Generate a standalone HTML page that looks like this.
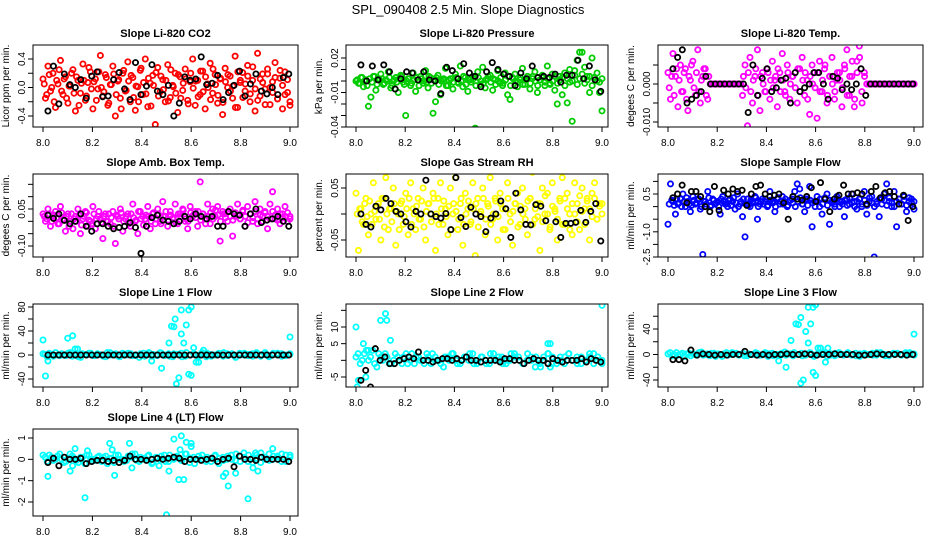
<!DOCTYPE html>
<html><head><meta charset="utf-8"><style>
html,body{margin:0;padding:0;background:#fff;}
svg{display:block;font-family:"Liberation Sans",sans-serif;}
</style></head><body>
<svg id="chart" width="936" height="540" viewBox="0 0 936 540" xmlns="http://www.w3.org/2000/svg">
<rect width="936" height="540" fill="#fff"/>
<text x="468" y="14" text-anchor="middle" font-size="13">SPL_090408  2.5 Min. Slope Diagnostics</text>
</svg>
<script>
// ---------- data ----------
const xTicks=[8.0,8.2,8.4,8.6,8.8,9.0];
const xTickLabels=["8.0","8.2","8.4","8.6","8.8","9.0"];

const co2Ticks=[0.4,0.2,0,-0.2,-0.4];
const co2Labels=["0.4","","0.0","","-0.4"];
const co2Color=[0.12,-0.15,0.3,-0.05,0.2,-0.28,0.05,0.38,-0.1,0.15,-0.22,0.02,0.25,-0.33,0.1,-0.08,0.33,-0.18,0.07,0.22,-0.3,0.12,-0.02,0.45,-0.12,0.18,-0.25,0.04,0.3,-0.4,0.09,-0.15,0.2,-0.05,0.36,-0.2,0.14,-0.32,0.01,0.24,-0.1,0.4,-0.27,0.06,0.17,-0.52,0.28,-0.06,0.11,-0.2,0.32,-0.14,0.03,0.2,-0.35,0.15,-0.04,0.26,-0.18,0.08,0.4,-0.25,0.1,-0.1,0.23,-0.3,0.05,0.34,-0.08,0.18,-0.22,0.12,-0.38,0.27,0.0,0.16,-0.15,0.44,-0.28,0.07,0.21,-0.05,0.31,-0.2,0.1,-0.33,0.48,-0.12,0.19,-0.02,0.26,-0.24,0.08,0.35,-0.16,0.13,-0.3,0.22,-0.07,-0.25];
const co2Color2=[0.05,-0.1,0.18,0.0,-0.2,0.1,0.25,-0.05,0.12,-0.15,0.02,0.2,-0.08,0.15,-0.25,0.06,0.1,-0.12,0.28,-0.02,0.08,-0.18,0.22,0.0,-0.06,0.14,-0.22,0.04,0.19,-0.1,0.11,-0.3,0.24,-0.04,0.09,0.17,-0.14,0.02,-0.2,0.27,0.07,-0.09,0.13,-0.26,0.03,0.21,-0.12,0.16,-0.03,0.1,-0.19,0.25,0.01,-0.08,0.18,-0.15,0.06,0.12,-0.23,0.2,-0.01,0.09,-0.13,0.23,-0.06,0.15,0.0,-0.17,0.26,0.04,-0.11,0.13,-0.21,0.08,0.18,-0.05,0.02,-0.28,0.22,0.1,-0.14,0.05,0.16,-0.09,0.29,-0.02,-0.18,0.12,0.07,-0.24,0.19,0.0,-0.07,0.14,-0.16,0.24,0.03,-0.1,0.11,-0.2];
const co2Black=[-0.33,0.3,-0.23,0.19,0.04,0.0,0.11,-0.15,0.16,0.22,-0.13,-0.12,0.11,0.21,-0.02,-0.17,0.35,-0.1,0.02,0.32,-0.05,-0.1,0.03,-0.4,-0.22,0.15,0.1,0.12,0.43,0.04,0.06,0.17,-0.17,-0.07,0.03,0.23,-0.12,0.05,0.19,-0.05,-0.09,0.0,-0.1,0.14,0.19];

const presTicks=[0.02,0.01,0,-0.01,-0.02,-0.03,-0.04];
const presLabels=["0.02","","","-0.01","","","-0.04"];
const presColor=[0,-0.002,0.003,-0.005,0.001,-0.022,-0.014,0.004,-0.008,0.002,0.006,-0.003,0.001,0.008,-0.006,0,0.003,-0.01,0.005,-0.001,-0.03,0.002,-0.004,0.007,-0.009,0.001,0.004,-0.002,0.009,-0.006,0.003,-0.028,-0.018,0.005,-0.012,0.001,0.011,-0.004,0.002,-0.007,0.006,-0.001,0.013,-0.005,0.003,-0.009,0.001,0.004,-0.041,0.008,-0.003,0.012,-0.006,0.002,0.005,-0.008,0.001,0.009,-0.002,-0.004,0.007,-0.012,-0.016,0.003,0.006,-0.005,0.001,0.011,-0.003,0.004,-0.007,0.002,0.008,-0.01,0.001,0.005,-0.004,0.013,-0.002,0.006,-0.008,-0.02,0.004,-0.012,0.007,-0.019,0.01,-0.035,0.009,0.018,0.025,0.025,0.012,0.004,-0.01,0.02,0.003,0.007,-0.01,-0.026];
const presColor2=[0.001,-0.002,0.003,0,-0.004,0.002,-0.001,0.004,-0.003,0.001,0.002,-0.002,0,0.003,-0.004,0.001,-0.001,0.002,0.004,-0.003,0,0.002,-0.002,0.001,0.003,-0.004,0.002,0,-0.001,0.004,-0.002,0.001,0.003,-0.003,0,0.002,-0.004,0.001,0.002,-0.001,0.003,-0.002,0,0.004,-0.003,0.001,-0.001,0.002,-0.004,0.003,0,-0.002,0.001,0.004,-0.001,0.002,-0.003,0,0.003,-0.002,0.001,0.004,-0.004,0.002,0,-0.001,0.003,-0.003,0.001,0.002,-0.002,0.004,0,-0.004,0.001,0.003,-0.001,0.002,-0.003,0,0.004,-0.002,0.001,0.003,-0.004,0.002,-0.001,0,0.005,-0.003,0.002,0.006,-0.002,0.001,0.004,-0.004,0.003,0,-0.001,0.002];
const presBlack=[0.014,0,0.013,0.001,0.014,0.008,-0.007,0.002,0.008,0.007,0.001,0.008,0.001,0,-0.011,0.012,0.009,0.002,0.015,0.007,0.004,-0.005,0.008,0.016,0.01,0.006,0.004,-0.004,0.007,0.002,0.013,0.003,0.004,0.003,0.006,-0.001,0.005,0.005,0.018,0.002,0.013,0.001,-0.009];

const tempTicks=[0.005,0,-0.005,-0.01];
const tempLabels=["","0.000","","-0.010"];
const tempColor=[0.003,-0.004,0.008,0.002,-0.006,0.005,-0.002,0.004,-0.007,0.001,0.006,-0.003,0.009,-0.005,0.002,0.004,-0.004,0,0,0,0,0,0,0,0,0,0,0,0,0,-0.003,0.005,-0.011,0.007,-0.005,0.002,0.009,-0.007,0.003,-0.002,0.004,-0.004,0.006,0.001,-0.006,0.003,0.008,-0.002,0.005,-0.004,0.002,0.012,-0.005,0.004,0.007,-0.003,0.001,-0.008,0.005,0.003,-0.009,0.006,-0.002,0.004,-0.005,0.002,0.007,-0.004,0.001,0.003,-0.006,0.005,0.009,-0.003,0.002,-0.006,0.006,0.01,-0.002,0.003,0,0,0,0,0,0,0,0,0,0,0,0,0,0,0,0,0,0,0,0];
const tempColor2=[-0.001,0.002,-0.003,0.004,0.001,-0.002,0.003,-0.004,0.002,0.005,-0.001,0.003,-0.002,0.001,0.004,-0.003,0.002,0,0,0,0,0,0,0,0,0,0,0,0,0,0.002,-0.001,0.003,-0.002,0.001,0.004,-0.003,0.002,0,-0.002,0.003,0.001,-0.001,0.002,0.004,-0.002,0.001,-0.003,0.003,0,0.002,-0.001,0.004,-0.002,0.001,0.003,-0.004,0.002,0,-0.001,0.003,-0.002,0.001,0.005,-0.003,0.002,0,-0.002,0.003,0.001,-0.001,0.004,-0.003,0.002,0.006,-0.004,0.003,0.007,-0.005,0.002,0,0,0,0,0,0,0,0,0,0,0,0,0,0,0,0,0,0,0,0];
const tempBlack=[0.004,0.007,0.009,-0.005,-0.004,-0.003,-0.002,0.002,0,0,0,0,0,0,0,0,-0.0075,0.005,-0.003,0.0015,0.004,-0.002,-0.001,0.001,0.0015,-0.005,0.003,-0.002,-0.001,0,0.003,0.003,0,-0.004,0.002,0.0015,-0.0015,0,-0.0015,0,0.004,-0.003,0,0,0,0,0,0,0,0,0,0];

const ambTicks=[0.15,0.1,0.05,0,-0.05,-0.1];
const ambLabels=["","","0.05","","","-0.10"];
const ambColor=[0.03,0.0,0.05,-0.02,0.02,0.04,-0.01,0.06,0.01,-0.04,0.03,0.0,-0.03,0.02,0.05,-0.05,0.01,0.04,-0.02,0.0,0.06,-0.03,0.02,0.01,-0.07,0.03,0.0,-0.01,0.04,-0.09,0.02,0.05,-0.04,0.01,0.03,-0.02,0.07,0.0,-0.05,0.04,0.02,0.01,0.06,-0.03,0.03,-0.01,0.05,0.0,0.08,0.02,-0.02,0.04,0.01,0.07,-0.01,0.03,0.05,0.0,-0.03,0.06,0.02,0.04,-0.02,0.16,0.03,0.01,0.07,-0.01,0.05,0.02,0.06,-0.08,0.04,0.03,0.0,0.05,-0.06,0.02,0.07,0.01,0.04,-0.02,0.06,0.03,0.0,0.08,-0.01,0.05,0.02,0.04,-0.03,0.07,0.12,0.01,0.05,-0.01,0.03,0.06,0.0,0.02];
const ambColor2=[0.02,0.01,0.03,0.0,0.025,0.015,-0.01,0.035,0.005,0.02,-0.02,0.03,0.01,0.0,0.025,-0.015,0.02,0.035,0.005,-0.01,0.03,0.01,0.04,-0.005,0.02,0.0,0.03,0.015,-0.02,0.025,0.01,0.035,0.0,0.02,-0.01,0.03,0.015,0.005,0.04,0.01,-0.015,0.025,0.02,0.0,0.035,0.01,0.03,-0.01,0.02,0.04,0.005,0.025,0.015,-0.005,0.03,0.02,0.045,0.01,0.0,0.035,0.025,0.015,0.04,0.005,0.03,-0.01,0.02,0.035,0.01,0.045,0.025,0.0,0.03,0.015,0.04,0.02,0.005,0.035,0.025,0.01,0.045,0.02,-0.005,0.03,0.015,0.04,0.01,0.025,0.0,0.035,0.02,0.01,0.04,0.025,0.005,0.03,0.015,0.02,0.035,0.01];
const ambBlack=[0.025,0.012,0.03,0.004,-0.01,0.0,0.03,-0.02,-0.04,-0.01,-0.01,-0.02,-0.03,-0.025,-0.02,-0.005,-0.025,-0.13,-0.02,0.015,0.025,0.005,0.0,-0.01,0.0,0.02,0.01,0.03,0.02,0.01,0.02,-0.02,-0.02,0.04,0.03,0.025,-0.02,0.03,0.05,-0.005,0.005,0.01,0.02,0.0,-0.02];

const rhTicks=[0.05,0,-0.05];
const rhLabels=["0.05","","-0.05"];
const rhColor=[0.04,-0.07,0.01,-0.02,0.03,-0.04,0.0,0.06,-0.01,0.02,-0.05,0.03,0.07,-0.03,0.01,0.05,-0.06,0.0,0.02,-0.02,0.04,-0.04,0.06,0.01,-0.03,0.03,-0.01,0.05,-0.05,0.02,0.0,0.04,-0.07,0.03,0.06,-0.02,0.01,-0.04,0.05,0.0,0.07,-0.03,0.02,-0.06,0.04,0.01,-0.02,0.06,-0.08,0.03,0.0,0.05,-0.04,0.02,0.07,-0.01,0.03,-0.05,0.04,0.01,-0.03,0.06,0.0,-0.06,0.02,0.04,-0.02,0.05,0.01,-0.04,0.03,0.08,-0.01,0.02,-0.07,0.05,0.0,0.04,-0.03,0.06,0.01,-0.05,0.03,0.07,-0.02,0.04,0.0,-0.04,0.06,0.02,-0.03,0.05,0.01,0.03,-0.05,0.04,0.06,-0.01,0.02,0.0];
const rhColor2=[0.0,0.01,-0.015,0.02,-0.005,0.025,-0.02,0.005,0.015,-0.01,0.03,-0.025,0.0,0.01,-0.015,0.02,0.005,-0.03,0.025,-0.005,0.01,0.03,-0.02,0.0,0.015,-0.01,0.025,-0.025,0.005,0.02,-0.015,0.03,0.0,-0.02,0.01,0.025,-0.005,0.015,-0.03,0.02,0.005,-0.01,0.03,-0.02,0.0,0.025,-0.015,0.01,0.02,-0.025,0.005,0.03,-0.01,0.015,-0.02,0.0,0.025,-0.005,0.02,-0.03,0.01,0.03,-0.015,0.005,0.02,-0.025,0.015,0.0,-0.01,0.025,0.03,-0.02,0.01,-0.005,0.02,-0.015,0.035,0.0,-0.025,0.015,0.005,-0.01,0.025,-0.02,0.03,0.01,-0.03,0.02,0.0,-0.015,0.035,0.005,-0.02,0.025,0.01,-0.005,0.03,-0.01,0.015,0.02];
const rhBlack=[0.0,-0.02,-0.025,0.015,0.008,0.03,0.02,0.005,0.0,-0.015,-0.025,0.005,0.0,0.065,0.0,-0.005,-0.008,0.001,-0.03,0.07,-0.007,-0.024,0.013,0.0,-0.005,-0.034,-0.008,0.0,0.025,0.01,-0.045,0.04,0.008,-0.02,-0.021,0.018,0.015,-0.013,-0.094,-0.015,-0.045,-0.018,-0.018,-0.016,0.007,-0.016,0.005,0.02,-0.052];

const flowTicks=[1.0,0.5,0,-0.5,-1.0,-1.5,-2.0];
const flowLabels=["","0.5","","","-1.0","","-2.5"];
const flowColor=[-0.7,0.9,0.2,-0.3,0.1,0.3,0.5,0.0,0.2,-0.2,0.4,0.1,0.3,-0.1,-1.9,0.2,0.6,0.0,0.3,0.1,0.2,-0.3,0.4,0.1,0.0,0.3,0.2,-0.1,0.5,0.1,-0.4,-1.2,0.3,0.0,0.2,0.4,-0.5,0.1,0.3,0.2,0.0,0.6,0.2,-0.2,0.3,0.1,0.4,0.2,0.0,-2.35,0.3,0.6,0.9,0.7,0.1,-0.2,0.3,0.8,-0.8,0.2,0.4,0.0,-0.3,0.3,0.5,-0.7,0.2,0.1,0.4,0.0,0.2,-0.4,0.3,0.1,0.5,0.2,-0.1,0.3,0.0,0.6,-0.3,0.2,0.4,-2.0,0.1,-0.4,0.3,0.5,0.9,0.2,0.0,0.6,-0.8,0.3,0.1,0.4,-0.2,0.2,0.3,-0.1];
const flowColor2=[0.1,0.25,0.05,0.3,0.15,0.0,0.2,0.35,0.1,0.05,0.25,0.15,0.3,0.0,0.2,0.1,0.35,0.05,0.25,0.15,0.0,0.3,0.2,0.1,0.25,0.05,0.35,0.15,0.0,0.2,0.3,0.1,0.05,0.25,0.15,0.35,0.0,0.2,0.1,0.3,0.05,0.25,0.15,0.0,0.35,0.2,0.1,0.3,0.05,0.25,0.15,0.0,0.2,0.35,0.1,0.3,0.05,0.25,0.15,0.0,0.2,0.3,0.1,0.35,0.05,0.25,0.15,0.0,0.3,0.2,0.1,0.25,0.05,0.35,0.15,0.0,0.2,0.3,0.1,0.25,0.05,0.35,0.15,0.0,0.2,0.3,0.1,0.25,0.05,0.35,0.15,0.0,0.2,0.3,0.1,0.25,0.05,0.35,0.15,0.2];
const flowBlack=[0.35,0.5,0.85,0.15,0.6,0.6,0.4,0.0,-0.2,0.8,-0.15,0.65,0.5,0.7,0.6,0.65,0.05,0.5,0.8,0.85,0.5,0.4,0.45,0.5,0.15,-0.5,0.4,0.3,0.25,0.4,0.75,0.2,0.95,0.3,-0.2,0.3,0.45,0.85,0.5,0.5,0.55,0.5,0.1,0.6,0.8,0.35,0.55,0.6,0.4,0.1,0.45,-0.55,0.0];

const line1Ticks=[80,60,40,20,0,-20,-40];
const line1Labels=["80","","40","","0","","-40"];
const line1Base=[2,-3,1,4,-1,0,3,-2,2,-4,1,3,-1,2,0,-3,4,1,-2,3,0,2,-1,-4,3,1,-2,0,4,-1,2,-3,1,3,-2,0,2,-1,4,-3,1,0,3,-2,2,1,-4,3,0,-1,2,4,-2,1,-3,3,0,2,-1,1];
const line1Base2=[1,3,-2,0,2,-1,4,1,-3,2,0,3,-1,1,-2,4,0,2,-3,1,3,-1,0,2,-2,4,1,-1,3,0,-2,2,1,-3,4,0,1,-1,2,3,-2,0,1,4,-1,2,-3,0,3,1,-2,2,0,4,-1,1,3,-2,0,2];
const line1OutX=[8.0,8.01,8.02,8.1,8.12,8.13,8.14,8.44,8.48,8.51,8.52,8.53,8.54,8.535,8.55,8.56,8.56,8.57,8.58,8.59,8.59,8.6,8.6,8.61,8.62,8.63,8.65,9.0];
const line1OutY=[25,-35,-10,28,32,10,10,-10,-22,20,48,47,-48,60,-38,35,75,20,50,-32,75,-34,80,12,-12,-12,8,30];
const line1Black=[0,0,0,0,0,0,0,0,0,0,0,0,0,0,0,0,0,0,0,0,0,0,0,0,0,0,0,0,0,0,0,0,0,0,0,0,0,0,0,0,0,0,0,0,0];

const line2Ticks=[15,10,5,0,-5];
const line2Labels=["","10","5","","-5"];
const line2Base=[1,-1,2,0,3,-2,1,2,-1,0,1,-1,2,0,-1,1,0,2,-1,1,0,-2,1,2,0,-1,1,0,2,-1,1,0,-1,2,0,1,-1,0,2,1,-1,0,1,-2,0,1,2,-1,0,1,-1,2,0,1,-1,0,1,2,0,-1];
const line2Base2=[2,0,3,1,-1,2,0,1,-1,2,0,1,-1,2,1,0,-1,1,2,0,-1,1,0,2,-1,0,1,2,-1,0,1,-1,2,0,1,-1,0,2,1,0,-1,2,0,1,-1,0,2,1,-1,0,1,2,0,-1,1,0,2,-1,1,0];
const line2OutX=[8.0,8.005,8.01,8.03,8.04,8.05,8.1,8.12,8.125,8.14,8.75,8.78,8.79,8.79,9.0];
const line2OutY=[10,-8,-6,5,-5,3,12,14,12,6,-2,5,5,-2,16.5];
const line2Black=[-6,-3,-8,3.5,0,1,-1,-1,0,0.5,1,0.5,2.5,0,0,-0.5,0,0.5,0.5,0,0.5,0,1,0,0,-0.5,0,0,0,-0.5,0.5,0.5,0,0,-1,0,0.5,0,0,-1,0.5,0,-0.5,0,0,0,0.5,-0.5,0.5,0,-0.5];

const line3Ticks=[60,40,20,0,-20,-40];
const line3Labels=["","40","","0","","-40"];
const line3Base=[1,-2,3,0,-3,2,1,-1,4,0,-2,2,1,-3,3,0,1,-1,2,-2,0,3,-1,1,-3,2,0,-1,4,1,-2,0,2,-1,3,-3,1,0,2,-1,-2,3,0,1,-1,2,-3,1,0,2,-1,3,0,-2,1,2,-1,0,3,-1];
const line3Base2=[3,0,-1,2,1,-2,0,3,-1,1,2,-3,0,1,-1,3,2,0,-2,1,0,2,-1,3,1,-2,0,2,-1,1,3,0,-2,1,2,-1,0,3,-3,1,2,0,-1,3,0,-2,1,2,0,-1,3,1,-2,0,2,1,-1,3,0,1];
const line3OutX=[8.45,8.48,8.5,8.52,8.53,8.54,8.54,8.55,8.56,8.57,8.57,8.58,8.59,8.59,8.6,8.6,8.61,8.62,8.64,8.65,9.0];
const line3OutY=[-10,-20,22,48,47,-45,58,-40,36,74,18,48,-28,74,-33,78,10,10,-12,10,32];
const line3Black=[-8,-8,-10,7,-1,1,0,-1,0,-1,0,0,5,0,-1,0,-1,0,0,1,0,0,1,0,-1,0,0,1,0,0,0,-1,-1,0,1,0,0,0,0,-1,0];

const line4Ticks=[1,0,-1,-2];
const line4Labels=["1","0","-1","-2"];
const line4Base=[0.2,-0.1,0.1,0,0.25,-0.15,0.05,0.15,-0.05,0.1,-0.2,0.2,0,0.1,-0.1,0.15,0.05,-0.15,0.2,0,-0.05,0.1,0.25,-0.1,0.05,0.15,-0.2,0.1,0,0.2,-0.1,0.05,0.15,-0.05,0.25,-0.15,0.1,0,0.2,-0.1,0.05,0.15,-0.2,0.1,0,0.2,-0.05,0.15,0.3,-0.1,0.05,0.2,-0.15,0.1,0.25,0,0.15,-0.1,0.2,0.1];
const line4Base2=[0.1,0.2,-0.05,0.15,0,-0.1,0.25,0.05,-0.15,0.1,0.2,0,-0.05,0.15,0.1,-0.2,0.05,0.2,0,-0.1,0.15,0.25,-0.05,0.1,0,0.2,-0.15,0.05,0.15,-0.1,0.2,0,0.1,-0.05,0.25,0.05,-0.2,0.15,0,0.1,-0.1,0.2,0.05,-0.05,0.15,0,0.25,-0.1,0.1,0.2,-0.15,0.05,0.3,0,-0.05,0.15,0.1,0.25,-0.1,0.2];
const line4OutX=[8.02,8.11,8.12,8.13,8.17,8.18,8.27,8.28,8.29,8.35,8.36,8.47,8.5,8.51,8.53,8.55,8.56,8.555,8.57,8.58,8.6,8.6,8.73,8.74,8.75,8.78,8.83,8.85,8.87,8.86,8.93];
const line4OutY=[-0.8,-0.55,-0.3,0.5,-1.8,0.4,0.75,0.45,-0.75,0.75,-0.4,-0.3,-2.6,-0.55,0.95,-0.95,1.1,0.45,-0.95,0.8,0.6,0.75,-0.8,-0.65,-1.25,-0.65,-1.85,-0.4,-0.55,0.3,0.5];
const line4Black=[-0.15,0.05,-0.3,0.1,0,0,0.05,-0.2,-0.1,-0.05,-0.05,-0.1,-0.05,-0.15,-0.05,0.15,0,0,-0.05,0,0.05,0,0.05,0.1,0.05,-0.1,0,0,-0.05,0,0.05,-0.1,0,0.05,-0.35,0.15,0,0,-0.05,0.1,0,0,0,0,-0.1];

// ---------- layout ----------
const cols=[{l:33,r:298,x8:43,x9:290},{l:346,r:608,x8:356,x9:602},{l:658,r:923,x8:668,x9:914}];
const rows=[{t:45,b:127},{t:174,b:257},{t:304,b:387},{t:429,b:516}];
const panels=[
 {name:"co2",title:"Slope Li-820 CO2",ylab:"Licor ppm per min.",c:0,r:0,color:"#ff0000",v1:0.4,p1:59,v2:-0.4,p2:116,ticks:co2Ticks,labels:co2Labels,cy:co2Color,cy2:co2Color2,by:co2Black},
 {name:"pressure",title:"Slope Li-820 Pressure",ylab:"kPa per min.",c:1,r:0,color:"#00cc00",v1:0.02,p1:58,v2:-0.04,p2:127,ticks:presTicks,labels:presLabels,cy:presColor,cy2:presColor2,by:presBlack},
 {name:"temp",title:"Slope Li-820 Temp.",ylab:"degees C per min.",c:2,r:0,color:"#ff00ff",v1:0,p1:84,v2:-0.01,p2:122,ticks:tempTicks,labels:tempLabels,cy:tempColor,cy2:tempColor2,by:tempBlack},
 {name:"amb-box-temp",title:"Slope Amb. Box Temp.",ylab:"degees C per min.",c:0,r:1,color:"#ff00ff",v1:0.05,p1:209,v2:-0.1,p2:246,ticks:ambTicks,labels:ambLabels,cy:ambColor,cy2:ambColor2,by:ambBlack},
 {name:"gas-stream-rh",title:"Slope Gas Stream RH",ylab:"percent per min.",c:1,r:1,color:"#ffff00",v1:0.05,p1:188,v2:-0.05,p2:240,ticks:rhTicks,labels:rhLabels,cy:rhColor,cy2:rhColor2,by:rhBlack},
 {name:"sample-flow",title:"Slope Sample Flow",ylab:"ml/min per min.",c:2,r:1,color:"#0000ff",v1:0.5,p1:194,v2:-2.0,p2:257,ticks:flowTicks,labels:flowLabels,cy:flowColor,cy2:flowColor2,by:flowBlack},
 {name:"line1-flow",title:"Slope Line 1 Flow",ylab:"ml/min per min.",c:0,r:2,color:"#00ffff",v1:0,p1:355,v2:-40,p2:379,ticks:line1Ticks,labels:line1Labels,cy:line1Base,cy2:line1Base2,ox:line1OutX,oy:line1OutY,by:line1Black},
 {name:"line2-flow",title:"Slope Line 2 Flow",ylab:"ml/min per min.",c:1,r:2,color:"#00ffff",v1:10,p1:327,v2:-5,p2:377,ticks:line2Ticks,labels:line2Labels,cy:line2Base,cy2:line2Base2,ox:line2OutX,oy:line2OutY,by:line2Black},
 {name:"line3-flow",title:"Slope Line 3 Flow",ylab:"ml/min per min.",c:2,r:2,color:"#00ffff",v1:40,p1:329,v2:-40,p2:380,ticks:line3Ticks,labels:line3Labels,cy:line3Base,cy2:line3Base2,ox:line3OutX,oy:line3OutY,by:line3Black},
 {name:"line4-flow",title:"Slope Line 4 (LT) Flow",ylab:"ml/min per min.",c:0,r:3,color:"#00ffff",v1:1,p1:438,v2:-2,p2:502,ticks:line4Ticks,labels:line4Labels,cy:line4Base,cy2:line4Base2,ox:line4OutX,oy:line4OutY,by:line4Black}
];

const svg=document.getElementById('chart');
const NS="http://www.w3.org/2000/svg";
function mk(tag,attrs,parent){const e=document.createElementNS(NS,tag);for(const k in attrs)e.setAttribute(k,attrs[k]);parent.appendChild(e);return e;}

panels.forEach(p=>{
  const C=cols[p.c],R=rows[p.r];
  const g=mk('g',{},svg);
  
  
  const xs=v=>C.x8+(v-8)*(C.x9-C.x8);
  const ys=v=>p.p1+(v-p.v1)*(p.p2-p.p1)/(p.v2-p.v1);
  const clip='clip-'+p.name;
  const cp=mk('clipPath',{id:clip},g);
  mk('rect',{x:C.l,y:R.t,width:C.r-C.l,height:R.b-R.t},cp);
  const t=mk('text',{x:(C.l+C.r)/2,y:R.t-8,'text-anchor':'middle','font-size':'11','font-weight':'bold'},g);
  t.textContent=p.title;
  
  
  const yl=mk('text',{x:0,y:0,'text-anchor':'middle','font-size':'10',transform:`translate(${C.l-24},${(R.t+R.b)/2}) rotate(-90)`},g);
  yl.textContent=p.ylab;
  
  
  xTicks.forEach((v,i)=>{
    const x=xs(v);
    const tk=mk('line',{x1:x,x2:x,y1:R.b,y2:R.b+5,stroke:'#000','stroke-width':1},g);
    
    
    const lb=mk('text',{x:x,y:R.b+19,'text-anchor':'middle','font-size':'10'},g);
    lb.textContent=xTickLabels[i];
    
    
  });
  p.ticks.forEach((v,i)=>{
    const y=ys(v);
    const tk=mk('line',{x1:C.l-5,x2:C.l,y1:y,y2:y,stroke:'#000','stroke-width':1},g);
    
    
    if(p.labels[i]){
      const lb=mk('text',{x:0,y:0,'text-anchor':'middle','font-size':'10',transform:`translate(${C.l-8},${y}) rotate(-90)`},g);
      lb.textContent=p.labels[i];
      
      
    }
  });
  const pg=mk('g',{'clip-path':`url(#${clip})`,fill:'none','stroke-width':1.8},g);
  
  
  [p.cy,p.cy2].forEach((arr,k)=>{
    const n=arr.length;
    const off=k*0.5/(n-1);
    arr.forEach((v,i)=>{
      const c=mk('circle',{cx:xs(8+off+i*(1-off)/(n-1)),cy:ys(v),r:2.6,stroke:p.color},pg);
      
      
    });
  });
  if(p.ox){p.ox.forEach((xv,i)=>{
    const c=mk('circle',{cx:xs(xv),cy:ys(p.oy[i]),r:2.6,stroke:p.color},pg);
    
    
  });}
  const m=p.by.length;
  p.by.forEach((v,i)=>{
    const c=mk('circle',{cx:xs(8.02+i*0.975/(m-1)),cy:ys(v),r:2.6,stroke:'#000'},pg);
    
    
  });
  const box=mk('rect',{x:C.l,y:R.t,width:C.r-C.l,height:R.b-R.t,fill:'none',stroke:'#000','stroke-width':1},g);
  
  
});
</script>
</body></html>
